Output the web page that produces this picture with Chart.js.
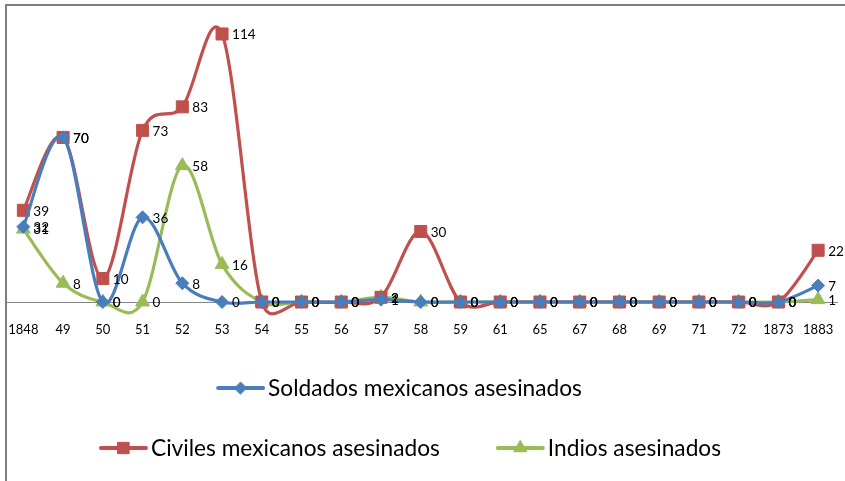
<!DOCTYPE html>
<html>
<head>
<meta charset="utf-8">
<script src="https://cdn.jsdelivr.net/npm/chart.js@4.4.1/dist/chart.umd.min.js"></script>
<style>
  html, body { margin: 0; padding: 0; background: #fff; }
  #wrap { position: relative; width: 845px; height: 481px; overflow: hidden; }
  #frame { position: absolute; left: 5px; top: 4px; width: 900px; height: 600px;
           border-top: 2px solid #7f7f7f; border-left: 2px solid #7f7f7f; pointer-events: none; }
  canvas { position: absolute; left: 0; top: 0; }
</style>
</head>
<body>
<div id="wrap">
  <canvas id="c" width="845" height="481"></canvas>
  <div id="frame"></div>
</div>
<script>
const categories = ['1848','49','50','51','52','53','54','55','56','57','58','59','61','65','67','68','69','71','72','1873','1883'];
const soldados = [32,70,0,36,8,0,0,0,0,1,0,0,0,0,0,0,0,0,0,0,7];
const civiles  = [39,70,10,73,83,114,0,0,0,2,30,0,0,0,0,0,0,0,0,0,22];
const indios   = [31,8,0,0,58,16,0,0,0,2,0,0,0,0,0,0,0,0,0,0,1];
const seriesNames = ['Soldados mexicanos asesinados','Civiles mexicanos asesinados','Indios asesinados'];

const BLUE = '#4A7EBB', RED = '#C0504D', GREEN = '#9BBB59';
const FONT = 'Lato, "Open Sans", sans-serif';

// Excel-like smoothing applied to the control points Chart.js uses
const excelSmooth = {
  id: 'excelSmooth',
  beforeDatasetDraw(chart, args) {
    const meta = args.meta;
    const line = meta.dataset;
    if (!line) return;
    line.updateControlPoints(chart.chartArea, meta.iScale.axis);
    const pts = meta.data;
    const n = pts.length;
    const dist = (a, b) => Math.hypot(b.x - a.x, b.y - a.y);
    for (let i = 0; i < n; i++) {
      const p = pts[Math.max(0, i - 1)], c = pts[i], q = pts[Math.min(n - 1, i + 1)];
      const dx = (q.x - p.x) / 6, dy = (q.y - p.y) / 6;
      const len = Math.hypot(dx, dy) || 1;
      const k1 = Math.min(1, 0.7 * dist(p, c) / len);
      const k2 = Math.min(1, 0.7 * dist(c, q) / len);
      c.cp1x = c.x - dx * k1; c.cp1y = c.y - dy * k1;
      c.cp2x = c.x + dx * k2; c.cp2y = c.y + dy * k2;
    }
  }
};

const zeroLine = {
  id: 'zeroLine',
  beforeDatasetsDraw(chart) {
    const {ctx, chartArea, scales} = chart;
    const y = Math.round(scales.y.getPixelForValue(0)) + 0.5;
    ctx.save();
    ctx.strokeStyle = '#868686';
    ctx.lineWidth = 1;
    ctx.beginPath();
    ctx.moveTo(6, y);
    ctx.lineTo(chartArea.right, y);
    ctx.stroke();
    ctx.restore();
  }
};

const valueLabels = {
  id: 'valueLabels',
  afterDatasetsDraw(chart) {
    const {ctx} = chart;
    ctx.save();
    ctx.font = '13.5px ' + FONT;
    ctx.fillStyle = '#000';
    ctx.textAlign = 'left';
    ctx.textBaseline = 'middle';
    chart.data.datasets.forEach((ds, di) => {
      const meta = chart.getDatasetMeta(di);
      meta.data.forEach((pt, i) => {
        ctx.fillText(String(ds.data[i]), pt.x + 10, pt.y + 1);
      });
    });
    ctx.restore();
  }
};

const customLegend = {
  id: 'customLegend',
  afterDraw(chart) {
    const {ctx} = chart;
    const ds = chart.data.datasets;
    const rows = [[0], [1, 2]];
    const rowY = [388, 448];
    const rowCx = [399, 410];
    const iconW = 49, iconGap = 3, itemGap = 56;
    ctx.save();
    ctx.font = '22.7px ' + FONT;
    ctx.textBaseline = 'middle';
    rows.forEach((row, r) => {
      const widths = row.map(i => iconW + iconGap + ctx.measureText(ds[i].label).width);
      const total = widths.reduce((a, b) => a + b, 0) + itemGap * (row.length - 1);
      let x = rowCx[r] - total / 2;
      const y = rowY[r];
      row.forEach((i, k) => {
        const d = ds[i];
        ctx.strokeStyle = d.borderColor;
        ctx.lineWidth = 4;
        ctx.lineCap = 'round';
        ctx.beginPath();
        ctx.moveTo(x + 2, y);
        ctx.lineTo(x + iconW - 2, y);
        ctx.stroke();
        ctx.fillStyle = d.backgroundColor;
        ctx.strokeStyle = d.borderColor;
        ctx.lineWidth = 1;
        Chart.helpers.drawPoint(ctx, {pointStyle: d.pointStyle, radius: d.pointRadius - 0.5, borderWidth: 1}, x + iconW / 2, y);
        ctx.fillStyle = '#000';
        ctx.textAlign = 'left';
        ctx.fillText(d.label, x + iconW + iconGap, y + 1);
        x += widths[k] + itemGap;
      });
    });
    ctx.restore();
  }
};

function ds(label, data, color, style, radius) {
  return {
    label, data,
    borderColor: color, backgroundColor: color,
    borderWidth: 3.2, tension: 0.4, clip: false,
    pointStyle: style, pointRadius: radius, pointHoverRadius: radius,
    pointBackgroundColor: color, pointBorderColor: color, pointBorderWidth: 1
  };
}

new Chart(document.getElementById('c'), {
  type: 'line',
  data: {
    labels: categories,
    datasets: [
      ds(seriesNames[0], soldados, BLUE, 'rectRot', 6.5),
      ds(seriesNames[1], civiles, RED, 'rect', 8.5),
      ds(seriesNames[2], indios, GREEN, 'triangle', 8)
    ]
  },
  options: {
    responsive: false,
    animation: false,
    layout: { autoPadding: false, padding: { left: 3.5, right: 7, top: 10, bottom: 145.6 } },
    plugins: { legend: { display: false }, tooltip: { enabled: false } },
    elements: { line: { capBezierPoints: false } },
    scales: {
      x: {
        offset: true,
        grid: { display: false, drawTicks: false },
        border: { display: false },
        ticks: { color: '#000', font: { family: FONT, size: 13 }, autoSkip: false, maxRotation: 0, padding: 10.5 },
        afterFit(scale) {
          scale.height = 24;
          scale.paddingLeft = 0;
          scale.paddingRight = 0;
        }
      },
      y: { display: false, min: -4, max: 124.2 }
    }
  },
  plugins: [excelSmooth, zeroLine, valueLabels, customLegend]
});
</script>
</body>
</html>
